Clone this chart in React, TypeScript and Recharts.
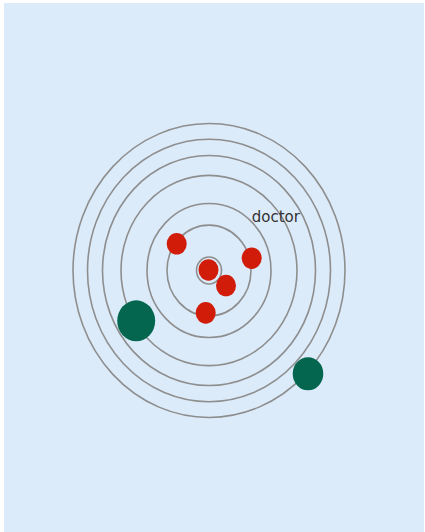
import React from "react";
import { ScatterChart, Scatter, XAxis, YAxis, ZAxis, ReferenceDot } from "recharts";

// 同心圆半径(数据单位)
const ringRadii = [12.5, 42, 62, 88, 106.5, 121.5, 136];

// 红色节点(近)
const redX = [-32.3, 42.7, -0.5, 17, -3.3];
const redY = [24.7, 11.4, 0.5, -13.9, -39.2];
const redW = [1, 1, 1, 1, 1];

// 绿色节点(远)
const greenX = [-72.8, 99];
const greenY = [-46.6, -95.6];
const greenW = [3.6, 2.34];

// 标签
const labelText = "doctor";
const labelX = 66.8;
const labelY = 49.6;

const W = 420;
const H = 529;
const M = { top: 19, right: 15, bottom: 13, left: 5 };
const X_DOMAIN: [number, number] = [-200, 200];
const Y_DOMAIN: [number, number] = [-230, 230];
const KX = (W - M.left - M.right) / (X_DOMAIN[1] - X_DOMAIN[0]);
const KY = (H - M.top - M.bottom) / (Y_DOMAIN[1] - Y_DOMAIN[0]);

const rings = ringRadii.map((r) => ({ x: 0, y: 0, r }));
const reds = redX.map((x, i) => ({ x, y: redY[i], z: redW[i] }));
const greens = greenX.map((x, i) => ({ x, y: greenY[i], z: greenW[i] }));

const RingShape = (props: any) => {
  const { cx, cy, payload } = props;
  return (
    <ellipse
      cx={cx}
      cy={cy}
      rx={payload.r * KX}
      ry={payload.r * KY}
      fill="none"
      stroke="#8e8e8e"
      strokeWidth={1.6}
    />
  );
};

const nodeShape = (color: string) => (props: any) => {
  const { cx, cy, width } = props;
  const r = width / 2;
  return <ellipse cx={cx} cy={cy} rx={r} ry={(r * KY) / KX} fill={color} />;
};

export default function App() {
  return (
    <div style={{ position: "absolute", left: 0, top: 0, width: 425, height: 532, background: "#ffffff" }}>
      <div style={{ position: "absolute", left: 4, top: 3, width: W, height: H, background: "#dcebfa" }}>
        <ScatterChart width={W} height={H} margin={M}>
          <XAxis type="number" dataKey="x" domain={X_DOMAIN} allowDataOverflow hide />
          <YAxis type="number" dataKey="y" domain={Y_DOMAIN} allowDataOverflow hide />
          <ZAxis type="number" dataKey="z" domain={[0, 4]} range={[0, 1256]} />
          <Scatter data={rings} shape={RingShape} isAnimationActive={false} />
          <Scatter data={greens} shape={nodeShape("#05664f")} isAnimationActive={false} />
          <Scatter data={reds} shape={nodeShape("#d01c08")} isAnimationActive={false} />
          <ReferenceDot
            x={labelX}
            y={labelY}
            r={0}
            fill="none"
            stroke="none"
            label={{
              value: labelText,
              position: "center",
              fill: "#333333",
              fontSize: 15,
              fontFamily: "DejaVu Sans, sans-serif",
            }}
          />
        </ScatterChart>
      </div>
    </div>
  );
}
